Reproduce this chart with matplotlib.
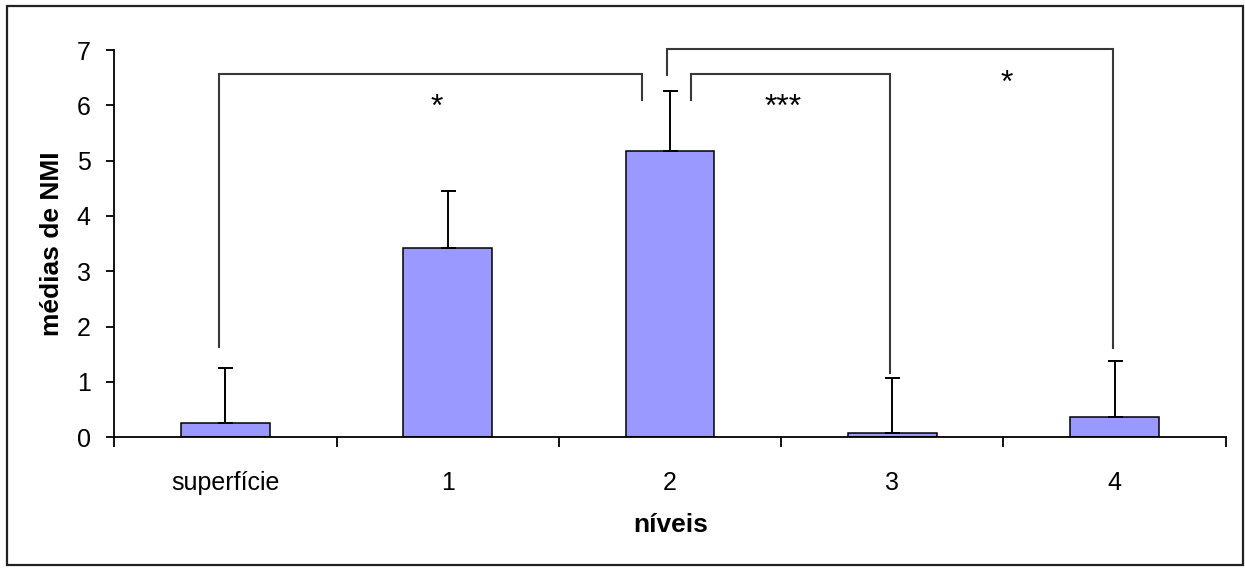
import matplotlib
matplotlib.use("Agg")
import matplotlib.pyplot as plt
from matplotlib.patches import Rectangle

plt.rcParams['font.family'] = ['Liberation Sans', 'DejaVu Sans']

categories = ['superfície', '1', '2', '3', '4']
means = [0.25, 3.42, 5.18, 0.07, 0.36]
errors = [1.01, 1.04, 1.08, 1.00, 1.01]
y_ticks = [0, 1, 2, 3, 4, 5, 6, 7]

# significance brackets: (x_left, x_right, y_left_end, y_right_end, y_top, label, label_x, label_baseline_y)
comparisons = [
    (-0.03, 1.873, 1.64, 6.10, 6.56, '*', 0.952, 5.80),
    (2.093, 2.988, 6.10, 1.17, 6.56, '***', 2.511, 5.80),
    (1.985, 3.993, 6.55, 1.62, 7.02, '*', 3.516, 6.25),
]

W, H = 1245, 568
fig = plt.figure(figsize=(W / 100, H / 100), dpi=100)
ax = fig.add_axes([114.3 / W, 1 - 437.3 / H, 1111.4 / W, (437.3 - 50) / H])

x = list(range(len(categories)))
ax.bar(x, means, width=0.4, color='#9999FF', edgecolor='black', linewidth=1.1, zorder=2)
ax.errorbar(x, means, yerr=[[0] * len(errors), errors], fmt='none', ecolor='black',
            elinewidth=1.4, capsize=5.4, capthick=1.4, zorder=3)

for (x1, x2, yl, yr, yt, lab, lx, ly) in comparisons:
    ax.plot([x1, x1, x2, x2], [yl, yt, yt, yr], color='#383838', lw=1.5,
            solid_joinstyle='miter', clip_on=False, zorder=4)
    ax.text(lx, ly, lab, ha='center', va='baseline', fontsize=23, color='black')

ax.set_xlim(-0.5, 4.5)
ax.set_ylim(0, 7)
ax.set_yticks(y_ticks)
ax.set_yticklabels([str(v) for v in y_ticks], fontsize=18)
ax.tick_params(axis='y', direction='out', length=6, width=1.3, pad=11, colors='black')

ax.set_xticks([i - 0.5 for i in range(len(categories) + 1)])
ax.set_xticklabels([])
ax.tick_params(axis='x', which='major', direction='out', length=7, width=1.3)
ax.set_xticks(x, minor=True)
ax.set_xticklabels(categories, minor=True, fontsize=18)
ax.tick_params(axis='x', which='minor', length=0, pad=24)

for s in ['top', 'right']:
    ax.spines[s].set_visible(False)
for s in ['left', 'bottom']:
    ax.spines[s].set_linewidth(1.3)
    ax.spines[s].set_color('black')

fig.text(52 / W, 1 - 244 / H, 'médias de NMI', rotation=90, ha='center', va='center',
         fontsize=19, fontweight='bold')
fig.text(671 / W, 1 - 525 / H, 'níveis', ha='center', va='center',
         fontsize=19, fontweight='bold')

fig.patches.append(Rectangle((7 / W, 3 / H), 1236 / W, 559 / H, transform=fig.transFigure,
                             fill=False, edgecolor='#222222', linewidth=1.6))

fig.savefig('out.png', dpi=100)
